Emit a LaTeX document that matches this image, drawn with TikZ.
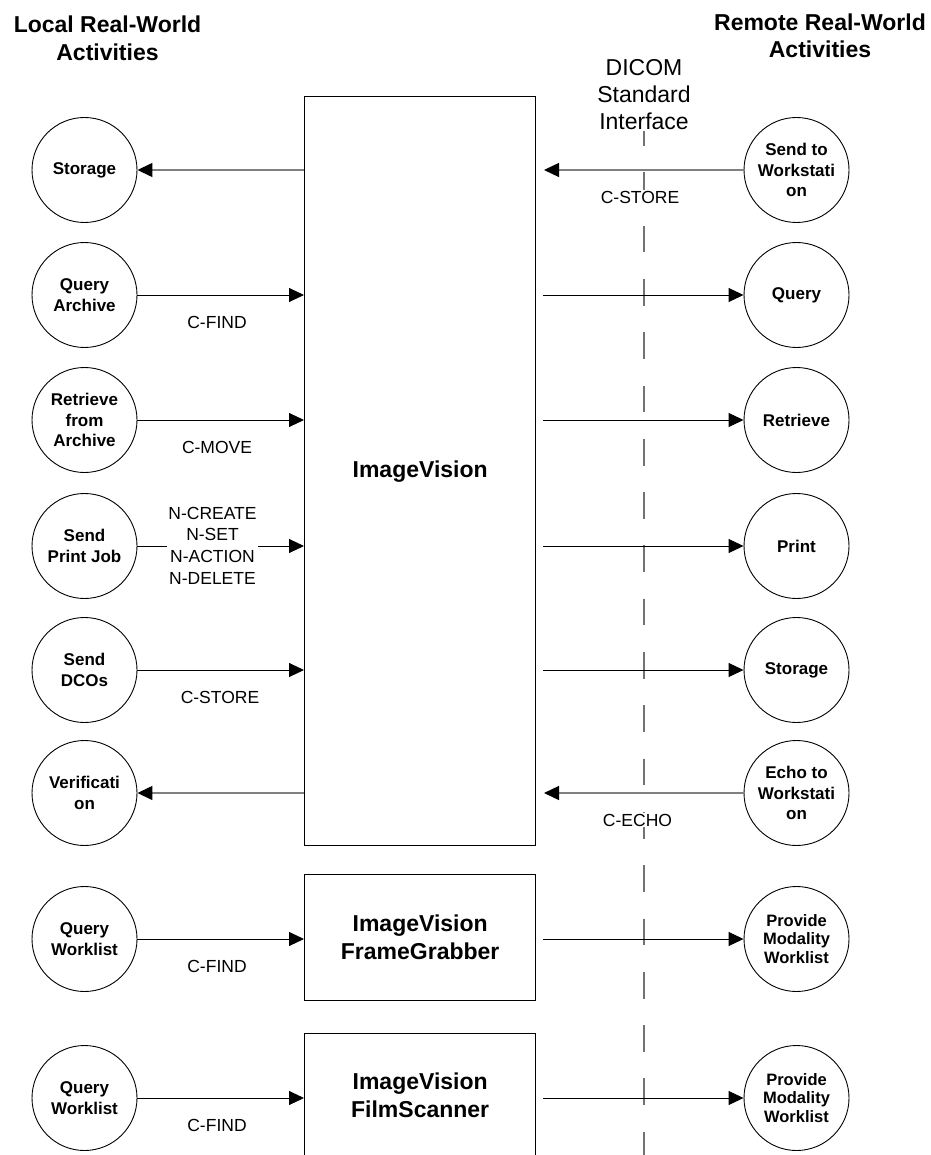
\documentclass[tikz,border=0pt]{standalone}
\usepackage{fontspec}
\setmainfont{Liberation Sans}
\usetikzlibrary{arrows.meta}
\begin{document}
\begin{tikzpicture}[x=1pt,y=-1pt,
  act/.style={draw=black,line width=0.9pt,circle,minimum size=105pt,inner sep=0pt,align=center,
    font=\fontsize{17}{20.5}\selectfont\bfseries},
  actsm/.style={act,font=\fontsize{16.5}{18.5}\selectfont\bfseries},
  sysbox/.style={draw=black,line width=1.3pt,rectangle,anchor=north west,inner sep=0pt,align=center,
    font=\fontsize{23}{28}\selectfont\bfseries},
  hdr/.style={align=center,font=\fontsize{23}{27.5}\selectfont\bfseries},
  lbl/.style={align=center,inner xsep=1.5pt,inner ysep=1pt,font=\fontsize{17.5}{21.7}\selectfont},
  tip/.style={-{Triangle[length=15pt,width=14pt,color=black]}},
  outarr/.style={tip,draw=black,line width=0.9pt},
  inarr/.style={tip,draw=black!50,line width=1.4pt},
  dline/.style={draw=black!55,line width=1.3pt,dash pattern=on 26.7pt off 26.6pt}
]
\useasboundingbox (0,0) rectangle (930,1155);
\fill[white] (0,0) rectangle (930,1155);

% DICOM interface dashed line
\coordinate (dtop) at (644,119);
\coordinate (dbot) at (644,1170);
\draw[dline] (dtop) -- (dbot);

% headers
\node[hdr] (hl) at (107.5,38.5) {Local Real-World\\Activities};
\node[hdr] (hr) at (820,36) {Remote Real-World\\Activities};
\node[align=center,fill=white,inner sep=1pt,font=\fontsize{23}{27}\selectfont] (dicom) at (644,95) {DICOM\\Standard\\Interface};

% systems
\node[sysbox,minimum width=231pt,minimum height=749pt] (main) at (304,96) {};
\node[font=\fontsize{23}{28}\selectfont\bfseries] (mainlbl) at (main.center) {ImageVision};
\node[sysbox,minimum width=231pt,minimum height=126pt] (fg) at (304,874) {ImageVision\\FrameGrabber};
\node[sysbox,minimum width=231pt,minimum height=124pt] (fs) at (304,1033) {ImageVision\\FilmScanner};

% local activities
\node[act] (L1) at (84.5,170) {Storage};
\node[act] (L2) at (84.5,295) {Query\\Archive};
\node[act] (L3) at (84.5,420) {Retrieve\\from\\Archive};
\node[act] (L4) at (84.5,546) {Send\\Print Job};
\node[act] (L5) at (84.5,670) {Send\\DCOs};
\node[act] (L6) at (84.5,793) {Verificati\\on};
\node[act] (L7) at (84.5,939) {Query\\Worklist};
\node[act] (L8) at (84.5,1098) {Query\\Worklist};

% remote activities
\node[act] (R1) at (796.5,170) {Send to\\Workstati\\on};
\node[act] (R2) at (796.5,295) {Query};
\node[act] (R3) at (796.5,420) {Retrieve};
\node[act] (R4) at (796.5,546) {Print};
\node[act] (R5) at (796.5,670) {Storage};
\node[act] (R6) at (796.5,793) {Echo to\\Workstati\\on};
\node[actsm] (R7) at (796.5,939) {Provide\\Modality\\Worklist};
\node[actsm] (R8) at (796.5,1098) {Provide\\Modality\\Worklist};

% right-side gap coordinates
\coordinate (g1) at (544,170);
\coordinate (g2) at (543,295);
\coordinate (g3) at (543,420);
\coordinate (g4) at (543,546);
\coordinate (g5) at (543,670);
\coordinate (g6) at (544,793);
\coordinate (g7) at (543,939);
\coordinate (g8) at (543,1098);

% left connectors
\draw[inarr] (L1 -| main.west) -- (L1);
\draw[outarr] (L2) -- (L2 -| main.west);
\draw[outarr] (L3) -- (L3 -| main.west);
\draw[outarr] (L4) -- (L4 -| main.west);
\draw[outarr] (L5) -- (L5 -| main.west);
\draw[inarr] (L6 -| main.west) -- (L6);
\draw[outarr] (L7) -- (L7 -| fg.west);
\draw[outarr] (L8) -- (L8 -| fs.west);

% right connectors
\draw[inarr] (R1) -- (g1);
\draw[outarr] (g2) -- (R2);
\draw[outarr] (g3) -- (R3);
\draw[outarr] (g4) -- (R4);
\draw[outarr] (g5) -- (R5);
\draw[inarr] (R6) -- (g6);
\draw[outarr] (g7) -- (R7);
\draw[outarr] (g8) -- (R8);

% labels
\node[lbl] (t2) at (217,322) {C-FIND};
\node[lbl] (t3) at (217,447) {C-MOVE};
\node[lbl,fill=white] (t4) at (212.5,545.5) {N-CREATE\\N-SET\\N-ACTION\\N-DELETE};
\node[lbl] (t5) at (220,697) {C-STORE};
\node[lbl] (t7) at (217,966) {C-FIND};
\node[lbl] (t8) at (217,1125) {C-FIND};
\node[lbl,fill=white] (t1) at (640,197) {C-STORE};
\node[lbl,fill=white] (t6) at (637.5,820) {C-ECHO};
\end{tikzpicture}
\end{document}
